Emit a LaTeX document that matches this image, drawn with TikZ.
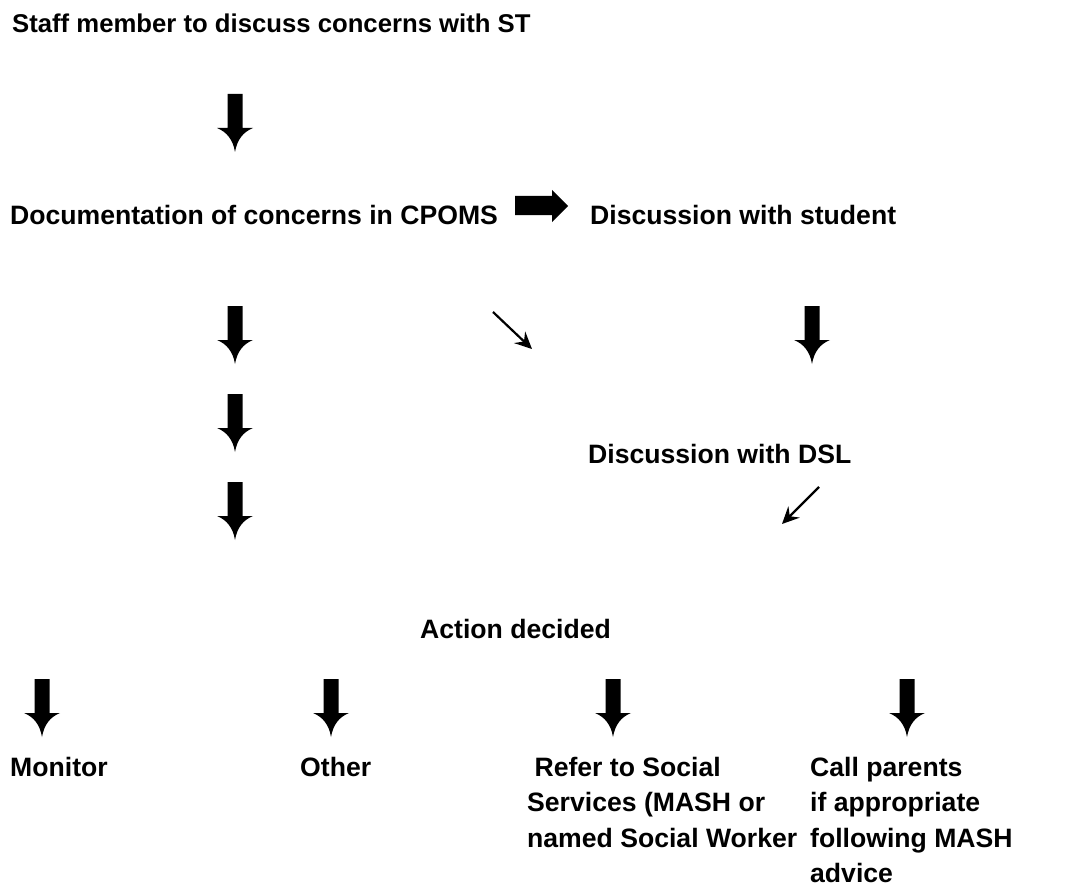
\documentclass[tikz,border=0pt]{standalone}
\usepackage{fontspec}
\setmainfont{Liberation Sans}
\usetikzlibrary{arrows.meta}
\tikzset{
  lbl/.style={anchor=base west, inner sep=0pt, font=\fontsize{26.6}{35.5}\selectfont\bfseries, align=left},
  thinarrow/.style={line width=2.2pt, -{Stealth[length=17pt,width=16pt,inset=6pt]}},
  pics/dnarrow/.style={code={
    \fill (-7.5,0) -- (7.5,0) -- (7.5,34) -- (18,34)
      .. controls (8,38) and (2,46) .. (0,58)
      .. controls (-2,46) and (-8,38) .. (-18,34) -- (-7.5,34) -- cycle;}},
}
\begin{document}
\begin{tikzpicture}[x=1pt,y=-1pt]
\useasboundingbox (0,0) rectangle (1085,888);
\node[lbl, font=\fontsize{25.7}{30}\selectfont\bfseries] (staff) at (12,33) {Staff member to discuss concerns with ST};
\pic at (235,94) {dnarrow};
\node[lbl] (doc) at (10,225) {Documentation of concerns in CPOMS};
\fill (515,196) -- (552,196) -- (552,190) -- (568,206) -- (552,222) -- (552,215) -- (515,215) -- cycle;
\node[lbl] (student) at (590,225) {Discussion with student};
\pic at (235,306) {dnarrow};
\pic at (235,394) {dnarrow};
\pic at (235,482) {dnarrow};
\pic at (812,306) {dnarrow};
\coordinate (d1s) at (493,312);
\coordinate (d1e) at (532,349);
\draw[thinarrow] (d1s) -- (d1e);
\node[lbl] (dsl) at (588,463) {Discussion with DSL};
\coordinate (d2s) at (819,487);
\coordinate (d2e) at (782,524);
\draw[thinarrow] (d2s) -- (d2e);
\node[lbl] (action) at (420,638) {Action decided};
\pic at (42,679) {dnarrow};
\pic at (331,679) {dnarrow};
\pic at (613,679) {dnarrow};
\pic at (907,679) {dnarrow};
\node[lbl] (monitor) at (10,776) {Monitor};
\node[lbl] (other) at (300,776) {Other};
\node[lbl] (refer) at (527,847) {\ Refer to Social\\Services (MASH or\\named Social Worker};
\node[lbl] (call) at (810,882.5) {Call parents\\if appropriate\\following MASH\\advice};
\end{tikzpicture}
\end{document}
